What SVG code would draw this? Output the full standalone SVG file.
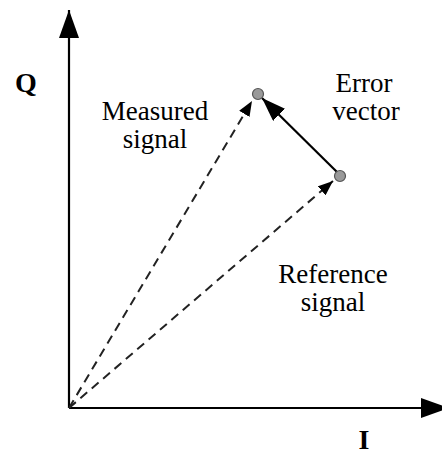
<svg xmlns="http://www.w3.org/2000/svg" width="442" height="454" viewBox="0 0 442 454">
<defs>
<marker id="ah" markerWidth="15" markerHeight="12" refX="15" refY="6" orient="auto" markerUnits="userSpaceOnUse" viewBox="0 0 15 12">
<path d="M0,0 L15,6 L0,12 Z" fill="#000"/>
</marker>
<marker id="big" markerWidth="28" markerHeight="20" refX="28" refY="10" orient="auto" markerUnits="userSpaceOnUse" viewBox="0 0 28 20">
<path d="M0,0 L28,10 L0,20 Z" fill="#000"/>
</marker>
<marker id="err" markerWidth="24" markerHeight="17" refX="24" refY="8.5" orient="auto" markerUnits="userSpaceOnUse" viewBox="0 0 24 17">
<path d="M0,0 L24,8.5 L0,17 Z" fill="#000"/>
</marker>
</defs>
<g id="connectors">
<line x1="69" y1="408" x2="69" y2="10" stroke="#000" stroke-width="2.2" marker-end="url(#big)"/>
<line x1="69" y1="408" x2="449" y2="408" stroke="#000" stroke-width="2.2" marker-end="url(#big)"/>
<g stroke="#222" stroke-width="2" stroke-dasharray="9,6" fill="none">
<line x1="69" y1="408" x2="252" y2="101" marker-end="url(#ah)"/>
<line x1="69" y1="408" x2="333" y2="181" marker-end="url(#ah)"/>
</g>
<line x1="338" y1="173" x2="262" y2="98" stroke="#000" stroke-width="2.2" marker-end="url(#err)"/>
</g>
<g id="measured-point"><circle cx="258" cy="94" r="5.5" fill="#999" stroke="#555" stroke-width="1.2"/></g>
<g id="reference-point"><circle cx="340" cy="176" r="5.5" fill="#999" stroke="#555" stroke-width="1.2"/></g>
<g id="label-q"><text x="26" y="92" font-family="Liberation Serif" font-size="28" font-weight="bold" text-anchor="middle">Q</text></g>
<g id="label-i"><text x="364" y="449" font-family="Liberation Serif" font-size="28" font-weight="bold" text-anchor="middle">I</text></g>
<g id="label-measured" font-family="Liberation Serif" font-size="27" text-anchor="middle"><text x="155" y="120">Measured</text><text x="155" y="148">signal</text></g>
<g id="label-error" font-family="Liberation Serif" font-size="27" text-anchor="middle"><text x="364" y="92">Error</text><text x="366" y="120">vector</text></g>
<g id="label-reference" font-family="Liberation Serif" font-size="27" text-anchor="middle"><text x="333" y="283">Reference</text><text x="333" y="311">signal</text></g>
</svg>
